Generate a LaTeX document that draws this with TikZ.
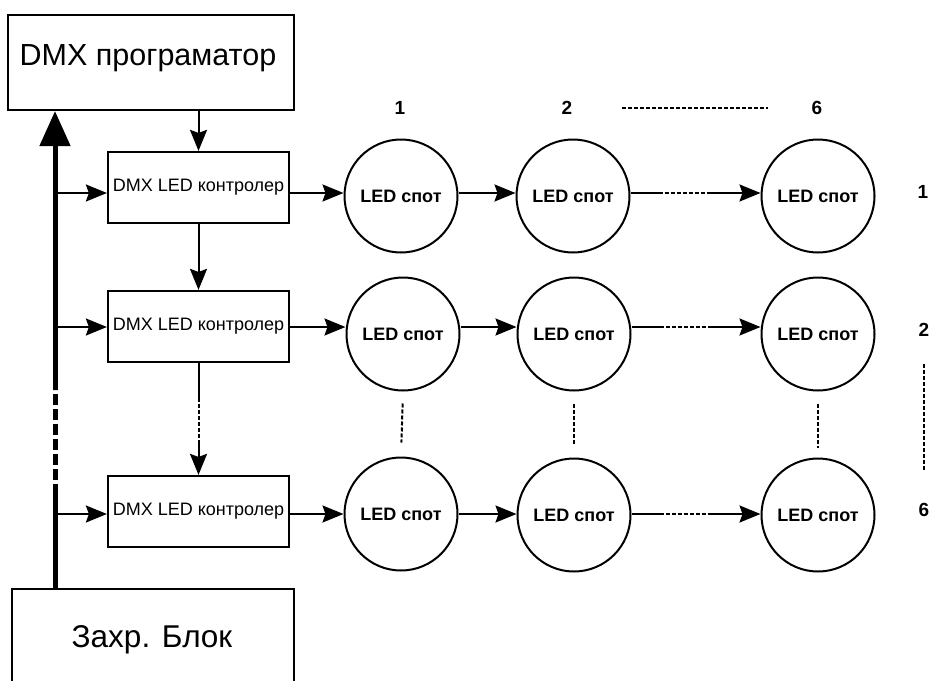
\documentclass[tikz,border=0pt]{standalone}
\usepackage{fontspec}
\setmainfont{Liberation Sans}
\usetikzlibrary{arrows.meta,calc}
\begin{document}
\begin{tikzpicture}[x=1pt,y=-1pt,
  box/.style={draw, line width=2.2pt, rectangle, inner sep=0pt},
  spot/.style={draw, circle, line width=2pt, minimum size=113pt, inner sep=0pt, font=\fontsize{18}{20}\selectfont\bfseries},
  ctrl/.style={box, minimum width=181pt, minimum height=71pt, font=\fontsize{18}{20}\selectfont},
  arr/.style={line width=2pt, -{Stealth[length=21pt,width=17pt,inset=3pt]}},
  ln/.style={line width=2pt},
  dsh/.style={line width=2pt, dash pattern=on 4pt off 2pt},
  thindsh/.style={line width=1.3pt, dash pattern=on 4pt off 2pt},
  num/.style={font=\fontsize{19}{22}\selectfont\bfseries, inner sep=0pt},
  bus/.style={line width=5pt},
]
\useasboundingbox (0,0) rectangle (931,680);
\clip (0,0) rectangle (931,680);

% main boxes
\node[box, minimum width=286pt, minimum height=95pt] (prog) at (151,62.5) {};
\node[anchor=base, font=\fontsize{30.5}{34}\selectfont] (progt) at (148,65) {DMX програматор};
\node[box, minimum width=282pt, minimum height=120pt] (zahr) at (153,649) {};
\node[anchor=base, font=\fontsize{31.5}{36}\selectfont] (zahrt) at (152,647) {Захр. Блок};

% controllers
\node[ctrl] (k1) at (198.5,187.5) {DMX LED контролер};
\node[ctrl] (k2) at (198.5,326.5) {DMX LED контролер};
\node[ctrl] (k3) at (198.5,511.5) {DMX LED контролер};

% spots
\node[spot] (c11) at (401,196) {LED спот};
\node[spot] (c12) at (573,196) {LED спот};
\node[spot] (c13) at (818,196) {LED спот};
\node[spot] (c21) at (403,334) {LED спот};
\node[spot] (c22) at (574,334) {LED спот};
\node[spot] (c23) at (818,334) {LED спот};
\node[spot] (c31) at (401,514) {LED спот};
\node[spot] (c32) at (574,515) {LED спот};
\node[spot] (c33) at (818,515) {LED спот};

% numbers
\node[num] (n1) at (400,108) {1};
\node[num] (n2) at (567,108) {2};
\node[num] (n6) at (817,108) {6};
\node[num] (m1) at (923,192) {1};
\node[num] (m2) at (924,330) {2};
\node[num] (m6) at (924,510) {6};
\draw[thindsh, shorten <=50pt, shorten >=44pt] (n2) -- (n6);
\draw[dsh, shorten <=27pt, shorten >=33pt] (m2) -- (m6);

% bus
\coordinate (busx) at (55,0);
\coordinate (bA) at (55,390);
\coordinate (bB) at (55,495);
\draw[bus] (zahr.north -| busx) -- (bB);
\draw[bus, dash pattern=on 11pt off 4pt] (bB) -- (bA);
\draw[bus, -{Triangle[length=35pt,width=30pt]}] (bA) -- (prog.south -| busx);

% rows
\coordinate (r1) at (0,193);
\coordinate (r2) at (0,327);
\coordinate (r3) at (0,514);

\draw[arr] (r1 -| busx) -- (r1 -| k1.west);
\draw[arr] (r2 -| busx) -- (r2 -| k2.west);
\draw[arr] (r3 -| busx) -- (r3 -| k3.west);

\draw[arr] (r1 -| k1.east) -- (r1 -| c11.west);
\draw[arr] (r2 -| k2.east) -- (r2 -| c21.west);
\draw[arr] (r3 -| k3.east) -- (r3 -| c31.west);

\draw[arr] (r1 -| c11.east) -- (r1 -| c12.west);
\draw[arr] (r2 -| c21.east) -- (r2 -| c22.west);
\draw[arr] (r3 -| c31.east) -- (r3 -| c32.west);

\draw[ln] (r1 -| c12.east) -- ++(28,0) coordinate (d1a);
\draw[dsh] (d1a) -- ++(51,0) coordinate (d1b);
\draw[arr] (d1b) -- (r1 -| c13.west);
\draw[ln] (r2 -| c22.east) -- ++(28,0) coordinate (d2a);
\draw[dsh] (d2a) -- ++(51,0) coordinate (d2b);
\draw[arr] (d2b) -- (r2 -| c23.west);
\draw[ln] (r3 -| c32.east) -- ++(28,0) coordinate (d3a);
\draw[dsh] (d3a) -- ++(51,0) coordinate (d3b);
\draw[arr] (d3b) -- (r3 -| c33.west);

% vertical flow
\draw[arr] (prog.south -| k1.north) -- (k1.north);
\draw[arr] (k1.south) -- (k2.north);
\draw[ln] (k2.south) -- ++(0,35) coordinate (v1);
\draw[dsh] (v1) -- ++(0,42) coordinate (v2);
\draw[arr] (v2) -- (k3.north);

% vertical dots between spot rows
\draw[dsh, shorten <=12pt, shorten >=14pt] (c21.south) -- (c31.north);
\draw[dsh, shorten <=12pt, shorten >=14pt] (c22.south) -- (c32.north);
\draw[dsh, shorten <=12pt, shorten >=10pt] (c23.south) -- (c33.north);
\end{tikzpicture}
\end{document}
